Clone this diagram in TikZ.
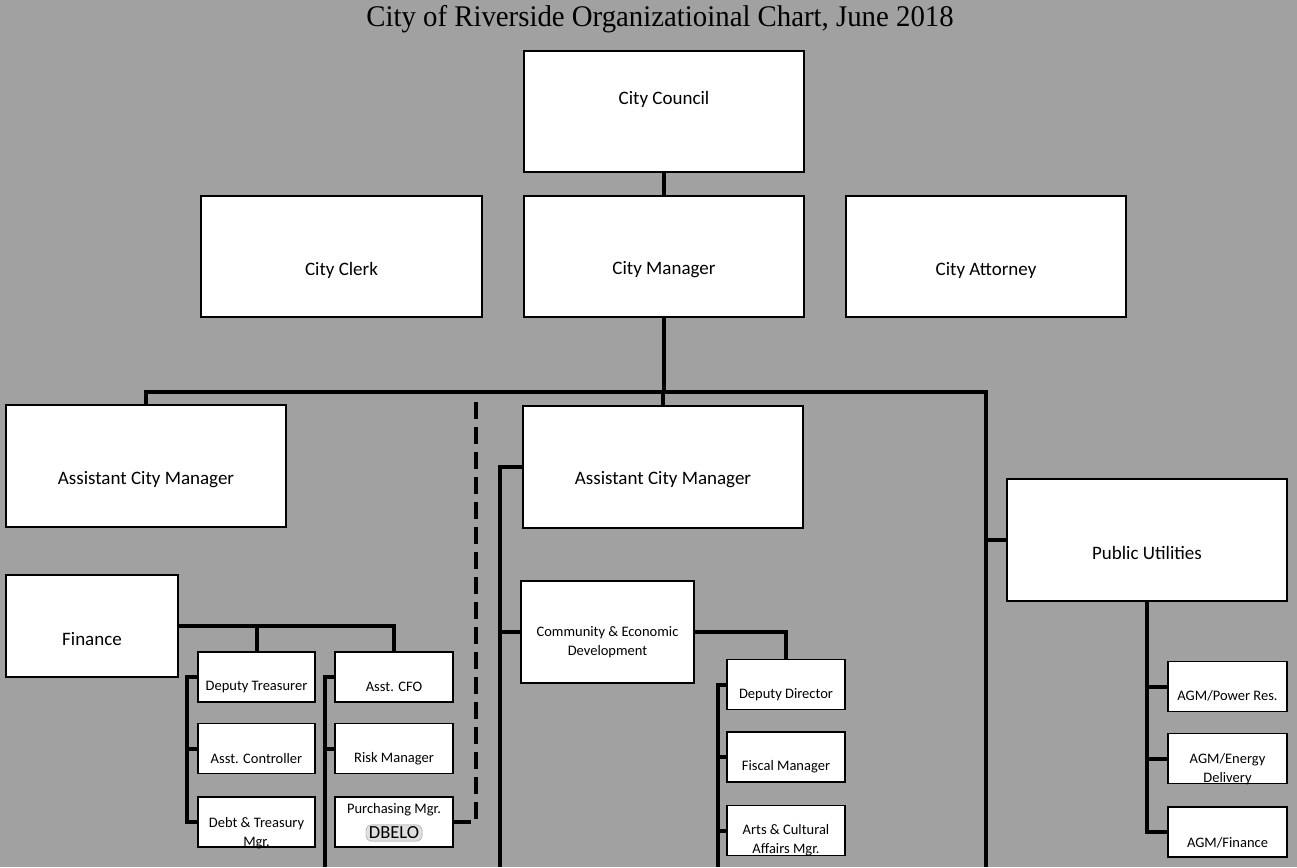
\documentclass[tikz,border=0pt]{standalone}
\usepackage{fontspec}
\setmainfont{Carlito}
\newfontfamily\titlefont{Liberation Serif}
\definecolor{bgc}{gray}{0.63}
\begin{document}
\begin{tikzpicture}[x=1pt,y=-1pt,
  box/.style={draw=black, line width=1.4pt, fill=white, inner sep=0pt},
  big/.style={box, minimum width=280pt, minimum height=121pt},
  small/.style={box, minimum width=117pt, minimum height=50pt},
  bigtxt/.style={font=\fontsize{19}{23}\selectfont, align=center, inner sep=0pt},
  smtxt/.style={font=\fontsize{14.5}{19}\selectfont, align=center, inner sep=0pt},
  dbelo/.style={draw=gray!80, fill=gray!25, rounded corners=5pt, inner xsep=3pt, inner ysep=2pt, font=\fontsize{18.5}{18.5}\selectfont},
  conn/.style={line width=4pt, draw=black, line join=miter},
]
\fill[bgc] (0,0) rectangle (1297,867);
\useasboundingbox (0,0) rectangle (1297,867);

\node[font=\titlefont\fontsize{30}{32}\selectfont, xscale=0.96] (title) at (660,19) {City of Riverside Organizatioinal Chart, June 2018};

% top tier
\node[big, label={[bigtxt,yshift=12.5pt]center:City Council}] (cc) at (664,111.5) {};
\node[big, minimum width=281pt, label={[bigtxt,yshift=-13.5pt]center:City Clerk}] (clerk) at (341.5,256.5) {};
\node[big, label={[bigtxt,yshift=-13.5pt]center:City Manager}] (cm) at (664,256.5) {};
\node[big, label={[bigtxt,yshift=-13.5pt]center:City Attorney}] (atty) at (986,256.5) {};

% second tier
\node[big, minimum height=122pt, label={[bigtxt,yshift=-14pt]center:Assistant City Manager}] (acm1) at (146,466) {};
\node[big, minimum height=122pt, label={[bigtxt,yshift=-13pt]center:Assistant City Manager}] (acm2) at (663,467) {};
\node[big, minimum height=122pt, label={[bigtxt,yshift=-13pt]center:Public Utilities}] (pu) at (1147,540) {};

% departments
\node[box, minimum width=172pt, minimum height=102pt, label={[bigtxt,yshift=-13pt]center:Finance}] (fin) at (92,626) {};
\node[box, minimum width=173pt, minimum height=102pt, label={[smtxt,yshift=-10pt]center:Community \& Economic\\Development}] (ced) at (607.5,632) {};

% finance staff
\node[small, label={[smtxt,yshift=-10pt]center:Deputy Treasurer}] (dt) at (256.5,677) {};
\node[small, label={[smtxt,yshift=-10pt]center:Asst. Controller}] (ac) at (256.5,748.5) {};
\node[small, label={[smtxt,yshift=-11pt]center:Debt \& Treasury\\Mgr.}] (debt) at (256.5,822) {};
\node[small, minimum width=118pt, label={[smtxt,yshift=-10pt]center:Asst. CFO}] (cfo) at (394,677) {};
\node[small, minimum width=118pt, label={[smtxt,yshift=-10pt]center:Risk Manager}] (risk) at (394,748.5) {};
\node[small, minimum width=118pt, label={[smtxt,yshift=12pt]center:Purchasing Mgr.}, label={[dbelo,yshift=-11pt]center:DBELO}] (purch) at (394,822) {};

% CED staff
\node[small, minimum width=118pt, label={[smtxt,yshift=-10pt]center:Deputy Director}] (dd) at (786,684.5) {};
\node[small, minimum width=118pt, label={[smtxt,yshift=-10pt]center:Fiscal Manager}] (fiscal) at (786,757) {};
\node[small, minimum width=118pt, label={[smtxt,yshift=-10pt]center:Arts \& Cultural\\Affairs Mgr.}] (arts) at (786,830.5) {};

% PU staff
\node[small, minimum width=119pt, label={[smtxt,yshift=-9pt]center:AGM/Power Res.}] (agm1) at (1227.5,686.5) {};
\node[small, minimum width=119pt, label={[smtxt,yshift=-11pt]center:AGM/Energy\\Delivery}] (agm2) at (1227.5,758.5) {};
\node[small, minimum width=119pt, label={[smtxt,yshift=-11pt]center:AGM/Finance}] (agm3) at (1227.5,832) {};

% coordinates
\coordinate (busL) at (147,392);
\coordinate (busR) at (986,392);
\coordinate (pubot) at (986,867);
\coordinate (dsh) at (476,822);
\coordinate (lbx) at (187,0);
\coordinate (rbb) at (325,867);
\coordinate (abb) at (500,867);
\coordinate (cbb) at (718,867);

% connectors
\draw[conn] (cc) -- (cm);
\draw[conn] (cm.south) -- (cm.south |- busL);
\draw[conn] (acm1.north) -- (acm1.north |- busL) -- (busR) -- (pubot);
\draw[conn] (acm2.north) -- (acm2.north |- busL);
\draw[conn] (pu.west) -- (pu.west -| busR);
\draw[conn, line width=4.5pt, dash pattern=on 17pt off 8pt] (purch.east) -- (dsh) -- (dsh |- busL);

\draw[conn] (fin.east) -| (cfo.north);
\draw[conn] (dt.north) -- (dt.north |- fin.east);
\draw[conn] (dt.west) -- (dt.west -| lbx) -- (debt.west -| lbx) -- (debt.west);
\draw[conn] (ac.west) -- (ac.west -| lbx);
\draw[conn] (cfo.west) -| (rbb);
\draw[conn] (risk.west) -- (risk.west -| rbb);

\draw[conn] (acm2.west) -| (abb);
\draw[conn] (ced.west) -- (ced.west -| abb);
\draw[conn] (ced.east) -| (dd.north);
\draw[conn] (dd.west) -| (cbb);
\draw[conn] (fiscal.west) -- (fiscal.west -| cbb);
\draw[conn] (arts.west) -- (arts.west -| cbb);

\draw[conn] (pu.south) -- (pu.south |- agm3.west) -- (agm3.west);
\draw[conn] (agm1.west) -- (agm1.west -| pu.south);
\draw[conn] (agm2.west) -- (agm2.west -| pu.south);
\end{tikzpicture}
\end{document}
